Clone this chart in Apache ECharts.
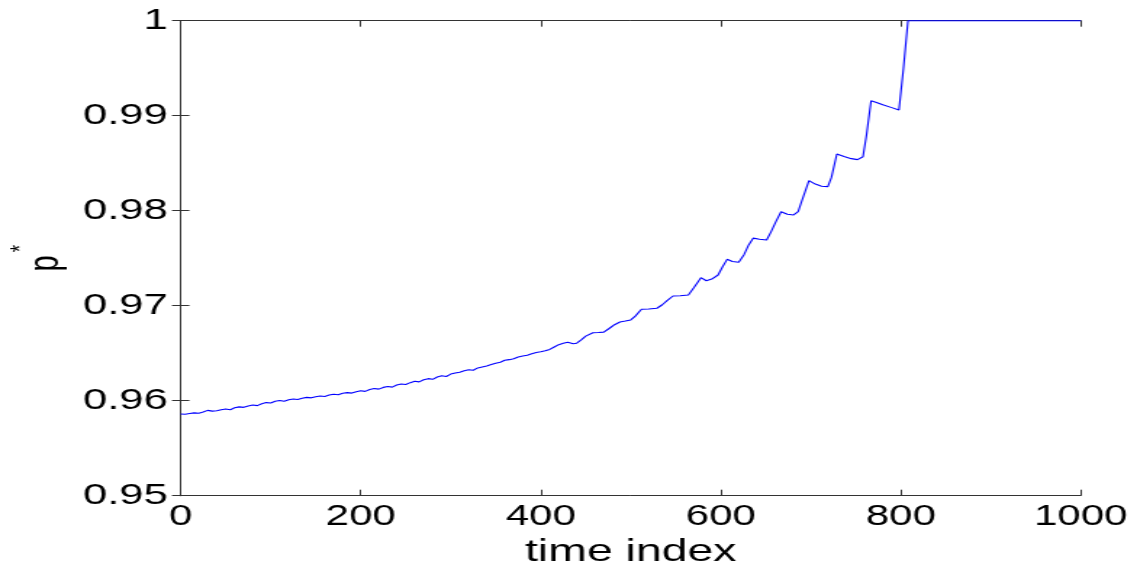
<!DOCTYPE html>
<html>
<head>
<meta charset="utf-8">
<script src="https://cdn.jsdelivr.net/npm/echarts@6/dist/echarts.min.js"></script>
<style>
html,body{margin:0;padding:0;background:#fff;overflow:hidden;width:1137px;height:562px;}
#c{width:784px;height:562px;transform:scaleX(1.4503);transform-origin:0 0;}
</style>
</head>
<body>
<div id="c"></div>
<script>
var timeIdx = [0,5,10,15,20,25,30,35,40,45,50,55,60,65,70,75,80,85,90,95,
  100,105,110,115,120,125,130,135,140,145,150,155,160,165,170,175,180,185,190,195,
  200,205,210,215,220,225,230,235,240,245,250,255,260,265,270,275,280,285,290,295,
  300,305,310,315,320,325,330,335,340,345,350,355,360,365,370,375,380,385,390,395,
  400,405,410,415,420,425,430,436,440,445,450,458,464,470,476,482,488,494,
  500,505,512,520,529,535,540,547,555,564,570,578,584,590,597,602,607,613,620,626,631,636,643,651,656,661,667,674,681,686,690,698,705,712,719,723,729,737,745,752,758,762,767,773,780,790,798,803,808,1000];
var pStar = [0.95860,0.95858,0.95865,0.95872,0.95868,0.95880,0.95898,0.95890,0.95895,0.95905,
  0.95912,0.95905,0.95925,0.95935,0.95930,0.95945,0.95955,0.95948,0.95968,0.95980,
  0.95975,0.95995,0.96002,0.95995,0.96010,0.96018,0.96012,0.96025,0.96035,0.96030,
  0.96042,0.96050,0.96045,0.96060,0.96068,0.96062,0.96078,0.96085,0.96080,0.96095,
  0.96105,0.96098,0.96118,0.96128,0.96122,0.96140,0.96150,0.96143,0.96165,0.96175,
  0.96170,0.96190,0.96205,0.96198,0.96220,0.96232,0.96225,0.96250,0.96262,0.96255,
  0.96280,0.96292,0.96300,0.96315,0.96325,0.96320,0.96345,0.96355,0.96365,0.96380,
  0.96395,0.96405,0.96425,0.96432,0.96442,0.96460,0.96470,0.96478,0.96495,0.96508,
  0.96515,0.96525,0.96540,0.96565,0.96590,0.96605,0.96615,0.96600,0.96605,0.96640,0.96680,0.96716,0.96718,0.96722,0.96760,0.96800,0.96828,0.96838,
  0.96850,0.96890,0.96962,0.96965,0.96973,0.97010,0.97050,0.97102,0.97105,0.97113,0.97190,0.97295,0.97263,0.97280,0.97323,0.97410,0.97488,0.97465,0.97457,0.97540,
  0.97640,0.97711,0.97700,0.97692,0.97780,0.97880,0.97989,0.97962,0.97955,0.97990,0.98100,0.98316,0.98280,0.98258,0.98253,0.98350,0.98597,0.98570,0.98548,0.98538,
  0.98568,0.98800,0.99158,0.99140,0.99115,0.99085,0.99061,0.99500,1.00000,1.00000];
var xTicks = [0,200,400,600,800,1000];
var yTicks = [0.95,0.96,0.97,0.98,0.99,1];

var FONT = 'Liberation Sans, Arial, sans-serif';
var AX = '#333333';
var data = timeIdx.map(function(t,i){return [t,pStar[i]];});

var chart = echarts.init(document.getElementById('c'));
var tickCommon = {show:true,inside:true,length:6,lineStyle:{color:AX,width:1}};
chart.setOption({
  animation:false,
  backgroundColor:'#fff',
  grid:{left:124.6,right:38.8,top:20.7,bottom:66.3,containLabel:false,outerBoundsMode:'none'},
  xAxis:[{
    type:'value',min:0,max:1000,interval:200,position:'bottom',
    name:'time index',nameLocation:'middle',nameGap:30,
    nameTextStyle:{fontFamily:FONT,fontSize:32,color:'#000'},
    axisLine:{show:true,lineStyle:{color:AX,width:1}},
    axisTick:tickCommon,
    axisLabel:{fontFamily:FONT,fontSize:29,color:'#000',margin:7,
      formatter:function(v){return String(v);}},
    splitLine:{show:false}
  },{
    type:'value',min:0,max:1000,interval:200,position:'top',
    axisLine:{show:true,lineStyle:{color:AX,width:1}},
    axisTick:tickCommon,axisLabel:{show:false},splitLine:{show:false}
  }],
  yAxis:[{
    type:'value',min:0.95,max:1,interval:0.01,position:'left',
    name:'{p|p}{s|*}',nameLocation:'middle',nameGap:71,nameRotate:90,
    nameTextStyle:{fontFamily:FONT,color:'#000',
      rich:{p:{fontFamily:FONT,fontSize:29,color:'#000',verticalAlign:'bottom'},
            s:{fontFamily:FONT,fontSize:19,color:'#000',verticalAlign:'top',padding:[0,0,22,3]}}},
    axisLine:{show:true,lineStyle:{color:AX,width:1}},
    axisTick:tickCommon,
    axisLabel:{fontFamily:FONT,fontSize:30,color:'#000',margin:9,
      formatter:function(v){return Math.abs(v-1)<1e-9?'1':v.toFixed(2);}},
    splitLine:{show:false}
  },{
    type:'value',min:0.95,max:1,interval:0.01,position:'right',
    axisLine:{show:true,lineStyle:{color:AX,width:1}},
    axisTick:tickCommon,axisLabel:{show:false},splitLine:{show:false}
  }],
  series:[{
    type:'line',data:data,showSymbol:false,smooth:false,clip:false,z:5,
    lineStyle:{color:'#0000ff',width:1.1},
    itemStyle:{color:'#0000ff'}
  }]
});
</script>
</body>
</html>
